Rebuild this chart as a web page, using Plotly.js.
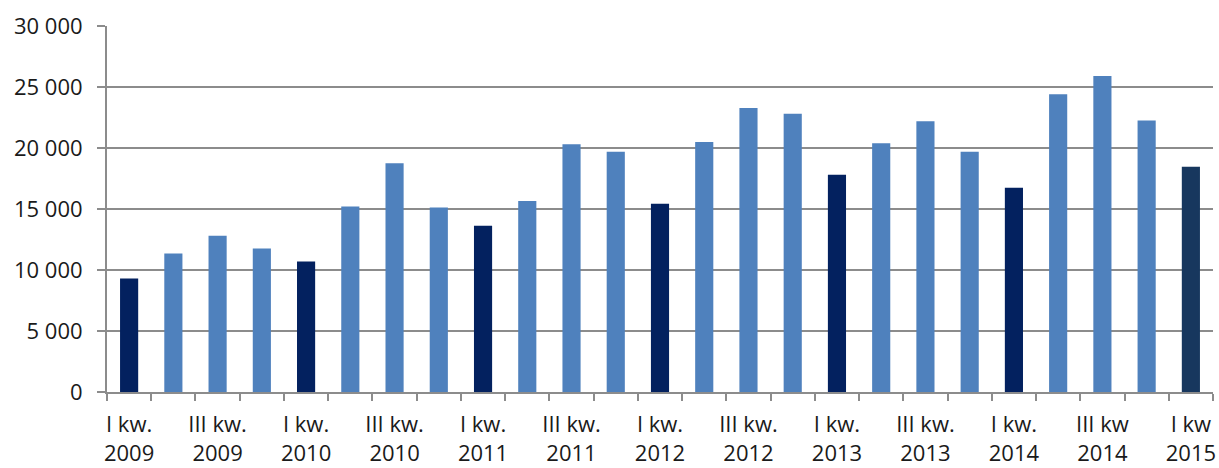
<!DOCTYPE html>
<html>
<head>
<meta charset="utf-8">
<script src="https://cdn.plot.ly/plotly-3.0.1.min.js"></script>
<style>html,body{margin:0;padding:0;background:#fff}#chart{width:1219px;height:468px}</style>
</head>
<body>
<div id="chart"></div>
<script>
const quarters = ["I","II","III","IV","I","II","III","IV","I","II","III","IV","I","II","III","IV","I","II","III","IV","I","II","III","IV","I"];
const years = [2009,2009,2009,2009,2010,2010,2010,2010,2011,2011,2011,2011,2012,2012,2012,2012,2013,2013,2013,2013,2014,2014,2014,2014,2015];
const values = [9300,11350,12800,11770,10700,15200,18750,15130,13630,15650,20300,19700,15430,20500,23280,22800,17800,20380,22200,19700,16750,24400,25900,22260,18470];
const tickLabels = ["I kw.<br>2009","III kw.<br>2009","I kw.<br>2010","III kw.<br>2010","I kw.<br>2011","III kw.<br>2011","I kw.<br>2012","III kw.<br>2012","I kw.<br>2013","III kw.<br>2013","I kw.<br>2014","III kw<br>2014","I kw<br>2015"];
const yTicks = [0,5000,10000,15000,20000,25000,30000];
const yTickLabels = ["0","5 000","10 000","15 000","20 000","25 000","30 000"];

const idx = values.map((_, i) => i);
const last = values.length - 1;
const colors = quarters.map((q, i) => i === last ? "#17375E" : (q === "I" ? "#03215F" : "#4F81BD"));
const tickPos = idx.filter(i => i % 2 === 0);

const font = {family: "Open Sans, Noto Sans, sans-serif", size: 22, color: "#1a1a1a"};

Plotly.newPlot("chart", [{
  type: "bar",
  x: idx,
  y: values,
  marker: {color: colors, line: {width: 0}},
  width: 0.41,
  hoverinfo: "skip"
}], {
  width: 1219, height: 468,
  margin: {l: 107, r: 6, t: 26, b: 76},
  paper_bgcolor: "#fff", plot_bgcolor: "#fff",
  showlegend: false,
  font: font,
  xaxis: {
    range: [-0.5, 24.5],
    tickmode: "array",
    tickvals: tickPos,
    ticktext: tickLabels,
    ticks: "",
    showgrid: false,
    zeroline: false,
    showline: true, linecolor: "#8c8c8c", linewidth: 2,
    tickfont: font,
    ticklabelstandoff: 12,
    minor: {tick0: -0.5, dtick: 1, ticks: "outside", ticklen: 7, tickwidth: 2, tickcolor: "#8c8c8c", showgrid: false}
  },
  yaxis: {
    range: [0, 30000],
    tickmode: "array",
    tickvals: yTicks,
    ticktext: yTickLabels,
    ticks: "outside", ticklen: 8, tickwidth: 2, tickcolor: "#8c8c8c",
    showgrid: true, gridcolor: "#8c8c8c", gridwidth: 2,
    zeroline: false,
    showline: true, linecolor: "#8c8c8c", linewidth: 2,
    tickfont: font,
    ticklabelstandoff: 10
  },
  bargap: 0.59
}, {displayModeBar: false, staticPlot: true});
</script>
</body>
</html>
